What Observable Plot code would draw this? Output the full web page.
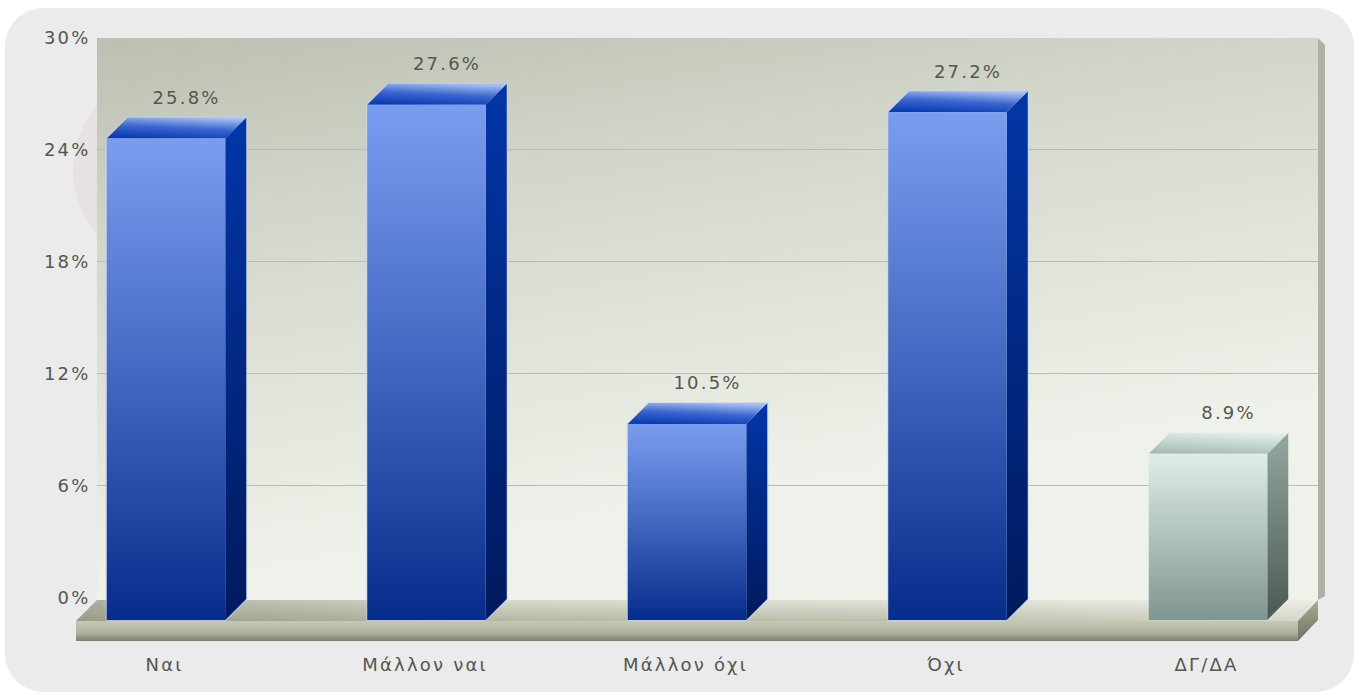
<!DOCTYPE html>
<html>
<head>
<meta charset="utf-8">
<style>html,body{margin:0;padding:0;background:#fff;overflow:hidden}</style>
<script src="https://cdn.jsdelivr.net/npm/d3@7"></script>
<script src="https://cdn.jsdelivr.net/npm/@observablehq/plot@0.6"></script>
</head>
<body>
<div id="chart"></div>
<script>
const categories = ["Ναι", "Μάλλον ναι", "Μάλλον όχι", "Όχι", "ΔΓ/ΔΑ"];
const values = [25.8, 27.6, 10.5, 27.2, 8.9];
const yTicks = [0, 6, 12, 18, 24, 30];
const gridTicks = [6, 12, 18, 24];
const rows = categories.map((cat, i) => ({cat, value: values[i]}));
const blueRows = rows.slice(0, 4);
const greyRows = rows.slice(4);

const depth = 21, wallLift = 22, floorThick = 20;
const ns = "http://www.w3.org/2000/svg";
const ink = "#53574f";

function grad(defs, id, dir, stops, user) {
  const g = defs.append("linearGradient").attr("id", id);
  if (user) g.attr("gradientUnits", "userSpaceOnUse");
  g.attr("x1", dir[0]).attr("y1", dir[1]).attr("x2", dir[2]).attr("y2", dir[3]);
  stops.forEach(([o, c, a]) => {
    const s = g.append("stop").attr("offset", o).attr("stop-color", c);
    if (a !== undefined) s.attr("stop-opacity", a);
  });
}
const V = [0, 0, 0, 1], H = [0, 0, 1, 0];

function defsMark() {
  const g = d3.create("svg:g");
  const d = g.append("defs");
  grad(d, "wall", [97, 38, 184, 583], [[0, "#bbc0b1"], [0.35, "#d2d5ca"], [1, "#eff2ea"]], true);
  grad(d, "floorTop", V, [[0, "#e0e3d6"], [1, "#b9bda8"]]);
  grad(d, "floorShade", H, [[0, "#6f725f", 0.45], [0.35, "#6f725f", 0.08], [0.7, "#ffffff", 0.05], [1, "#ffffff", 0.4]]);
  grad(d, "floorFront", V, [[0, "#c5c9b3"], [0.6, "#aeb29c"], [1, "#7b7d71"]]);
  grad(d, "floorSide", V, [[0, "#a8ac90"], [1, "#6f7264"]]);
  grad(d, "blueFront", V, [[0, "#7b9df0"], [0.5, "#4267c0"], [1, "#062c8c"]]);
  grad(d, "blueSide", V, [[0, "#0236a8"], [1, "#001a5e"]]);
  grad(d, "blueTop", [0.35, 1, 0.65, 0], [[0, "#0a3cb4"], [0.5, "#3a66d0"], [1, "#a6bef4"]]);
  grad(d, "greyFront", V, [[0, "#dfeeea"], [1, "#7f9590"]]);
  grad(d, "greySide", V, [[0, "#93a9a3"], [1, "#4a5852"]]);
  grad(d, "greyTop", [0.35, 1, 0.65, 0], [[0, "#a5bcb6"], [1, "#e2efe8"]]);
  return g.node();
}

function poly(parent, pts, fill) {
  const p = document.createElementNS(ns, "polygon");
  p.setAttribute("points", pts.map(q => q.join(",")).join(" "));
  p.setAttribute("fill", fill);
  parent.appendChild(p);
  return p;
}

function panelMark(index, scales, channels, dims) {
  const g = document.createElementNS(ns, "g");
  const r = document.createElementNS(ns, "rect");
  r.setAttribute("x", 5); r.setAttribute("y", 8);
  r.setAttribute("width", dims.width - 10); r.setAttribute("height", dims.height - 16);
  r.setAttribute("rx", 38); r.setAttribute("fill", "#ebebeb");
  g.appendChild(r);
  const seal = document.createElementNS(ns, "circle");
  seal.setAttribute("cx", 170); seal.setAttribute("cy", 170); seal.setAttribute("r", 97);
  seal.setAttribute("fill", "#c98a80"); seal.setAttribute("fill-opacity", 0.09);
  g.appendChild(seal);
  return g;
}

function wallMark(index, scales, channels, dims) {
  const g = document.createElementNS(ns, "g");
  const L = dims.marginLeft, R = dims.width - dims.marginRight;
  const T = scales.y(30) - wallLift, B = scales.y(0) - wallLift + 2;
  poly(g, [[R, T], [R + 7, T + 7], [R + 7, B - 4], [R, B]], "#adb1a6");
  poly(g, [[L, T], [R, T], [R, B], [L, B]], "url(#wall)");
  return g;
}

function floorMark(index, scales, channels, dims) {
  const g = document.createElementNS(ns, "g");
  const L = dims.marginLeft, R = dims.width - dims.marginRight;
  const y0 = scales.y(0) + 1;
  const fl = L - depth, fr = R - depth + 1;
  const topFace = [[fl, y0], [L, y0 - depth], [R, y0 - depth], [fr, y0]];
  poly(g, topFace, "url(#floorTop)");
  poly(g, topFace, "url(#floorShade)");
  poly(g, [[fl, y0], [fr, y0], [fr, y0 + floorThick], [fl, y0 + floorThick]], "url(#floorFront)");
  poly(g, [[fr, y0], [R, y0 - depth], [R, y0 - depth + floorThick], [fr, y0 + floorThick]], "url(#floorSide)");
  return g;
}

function box(name, halo) {
  return (index, scales, channels, dims, context, next) => {
    const g = next(index, scales, channels, dims, context);
    g.querySelectorAll("rect").forEach(rect => {
      const x = +rect.getAttribute("x"), y = +rect.getAttribute("y");
      const w = +rect.getAttribute("width"), h = +rect.getAttribute("height");
      const parent = rect.parentNode;
      if (halo) {
        const hull = poly(parent, [[x, y], [x + depth, y - depth], [x + w + depth, y - depth], [x + w + depth, y + h - depth], [x + w, y + h], [x, y + h]], "none");
        hull.setAttribute("stroke", halo);
        hull.setAttribute("stroke-width", 2.5);
        hull.setAttribute("stroke-opacity", 0.55);
        parent.insertBefore(hull, rect);
      }
      const side = poly(parent, [[x + w, y], [x + w + depth, y - depth], [x + w + depth, y + h - depth], [x + w, y + h]], `url(#${name}Side)`);
      const top = poly(parent, [[x, y], [x + depth, y - depth], [x + w + depth, y - depth], [x + w, y]], `url(#${name}Top)`);
      parent.insertBefore(side, rect);
      parent.insertBefore(top, rect);
    });
    return g;
  };
}

const chart = Plot.plot({
  width: 1359,
  height: 700,
  marginLeft: 97,
  marginRight: 41,
  marginTop: 60,
  marginBottom: 80,
  style: {fontFamily: "'DejaVu Sans'", fontSize: "18px", letterSpacing: "2.2px", color: ink, overflow: "hidden"},
  x: {domain: categories, range: [35.75, 1338.25], paddingInner: 0.545, paddingOuter: 0.2725, round: false, label: null},
  y: {domain: [0, 30], label: null},
  marks: [
    defsMark,
    panelMark,
    wallMark,
    Plot.ruleY(gridTicks, {y: d => d, stroke: "#b9bfa3", strokeWidth: 1, dy: -wallLift - 1}),
    floorMark,
    Plot.barY(blueRows, {x: "cat", y: "value", fill: "url(#blueFront)", render: box("blue", "#c4d6f4")}),
    Plot.barY(greyRows, {x: "cat", y: "value", fill: "url(#greyFront)", render: box("grey")}),
    Plot.text(rows, {x: "cat", y: "value", text: d => d.value.toFixed(1) + "%", dx: 20, dy: -41, fill: ink}),
    Plot.axisY({ticks: yTicks, tickFormat: d => d + "%", tickSize: 0, tickPadding: 7, dy: -wallLift, label: null, fill: ink}),
    Plot.axisX({tickSize: 0, tickPadding: 38, dx: -2, label: null, fill: ink})
  ]
});
document.getElementById("chart").appendChild(chart);
</script>
</body>
</html>
